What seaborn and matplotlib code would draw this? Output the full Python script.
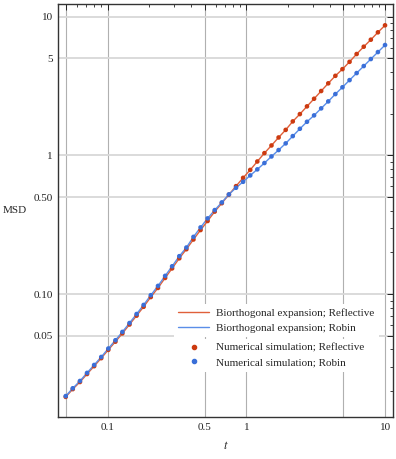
import numpy as np
import pandas as pd
import matplotlib
matplotlib.use("Agg")
import matplotlib.pyplot as plt
from matplotlib.lines import Line2D
from matplotlib.ticker import FixedLocator, NullFormatter
import seaborn as sns

# time grid (log spaced samples)
t = [0.05, 0.0562, 0.0633, 0.0712, 0.0801, 0.0901, 0.1013, 0.114, 0.128, 0.144,
     0.162, 0.182, 0.205, 0.231, 0.260, 0.292, 0.329, 0.370, 0.416, 0.468,
     0.526, 0.592, 0.666, 0.749, 0.843, 0.948, 1.067, 1.200, 1.350, 1.518,
     1.708, 1.921, 2.161, 2.431, 2.735, 3.077, 3.461, 3.893, 4.380, 4.927,
     5.542, 6.234, 7.013, 7.889, 8.874, 9.983]

msd_reflective = [0.0182, 0.0207, 0.0233, 0.0266, 0.0303, 0.0346, 0.0397, 0.0455, 0.0522, 0.0605,
                  0.0701, 0.0812, 0.0954, 0.111, 0.131, 0.1535, 0.1815, 0.211, 0.248, 0.290,
                  0.337, 0.394, 0.453, 0.522, 0.601, 0.690, 0.787, 0.905, 1.040, 1.181,
                  1.348, 1.529, 1.760, 1.987, 2.259, 2.563, 2.914, 3.311, 3.750, 4.190,
                  4.730, 5.385, 6.08, 6.83, 7.72, 8.67]

msd_robin = [0.01845, 0.0210, 0.0237, 0.0271, 0.0309, 0.0353, 0.0406, 0.0466, 0.0535, 0.0620,
             0.0720, 0.0837, 0.0984, 0.1148, 0.1356, 0.159, 0.188, 0.217, 0.259, 0.303,
             0.352, 0.404, 0.459, 0.524, 0.585, 0.646, 0.718, 0.794, 0.882, 0.984,
             1.094, 1.222, 1.379, 1.557, 1.749, 1.945, 2.185, 2.453, 2.770, 3.101,
             3.492, 3.924, 4.410, 4.955, 5.562, 6.25]

xticks = [0.05, 0.1, 0.5, 1, 5, 10]
xticklabels = ["", "0.1", "0.5", "1", "", "10"]
yticks = [0.05, 0.1, 0.5, 1, 5, 10]
yticklabels = ["0.05", "0.10", "0.50", "1", "5", "10"]

red_line, red_dot = "#e0603a", "#cc3a10"
blue_line, blue_dot = "#5a8ee8", "#3a6fd8"

df = pd.DataFrame({"t": t, "Reflective": msd_reflective, "Robin": msd_robin})

sns.set_style("white")
plt.rcParams['font.family'] = ['Liberation Serif', 'DejaVu Serif']
plt.rcParams['mathtext.fontset'] = 'stix'

fig = plt.figure(figsize=(3.96, 4.59), dpi=100)
ax = fig.add_axes([58.3 / 396, 1 - 417.3 / 459, (392.5 - 58.3) / 396, (417.3 - 4) / 459])

sns.lineplot(data=df, x="t", y="Reflective", color=red_line, lw=1.0, ax=ax, zorder=3)
sns.lineplot(data=df, x="t", y="Robin", color=blue_line, lw=1.0, ax=ax, zorder=3)
sns.scatterplot(data=df, x="t", y="Reflective", color=red_dot, s=11, edgecolor="none", ax=ax, zorder=4)
sns.scatterplot(data=df, x="t", y="Robin", color=blue_dot, s=11, edgecolor="none", ax=ax, zorder=4)

ax.set_xscale("log")
ax.set_yscale("log")
ax.set_xlim(0.0442, 11.3)
ax.set_ylim(0.01297, 12.35)

ax.set_xticks(xticks)
ax.set_xticklabels(xticklabels)
ax.set_yticks(yticks)
ax.set_yticklabels(yticklabels)
ax.xaxis.set_minor_locator(FixedLocator([0.06, 0.07, 0.08, 0.09, 0.2, 0.3, 0.4, 0.6, 0.7, 0.8, 0.9,
                                         2, 3, 4, 6, 7, 8, 9]))
ax.yaxis.set_minor_locator(FixedLocator([0.02, 0.03, 0.04, 0.06, 0.07, 0.08, 0.09, 0.2, 0.3, 0.4,
                                         0.6, 0.7, 0.8, 0.9, 2, 3, 4, 6, 7, 8, 9]))
ax.xaxis.set_minor_formatter(NullFormatter())
ax.yaxis.set_minor_formatter(NullFormatter())
ax.tick_params(which="both", direction="in", top=True, right=True, labelsize=8, colors="#222222", pad=4)
ax.tick_params(which="major", length=4, width=0.7)
ax.tick_params(which="minor", length=2.2, width=0.6)

# grid: vertical lines darker, horizontal lighter
for xv in xticks:
    ax.axvline(xv, color="#b0b0b0", lw=0.8, zorder=0)
for yv in yticks:
    ax.axhline(yv, color="#d8d8d8", lw=1.3, zorder=0)

for s in ax.spines.values():
    s.set_color("#333333")
    s.set_linewidth(1.0)

ax.set_xlabel("$t$", fontsize=9, labelpad=6)
ax.set_ylabel("MSD", fontsize=8, rotation=0, va="center", ha="center")
ax.yaxis.set_label_coords(-0.131, 0.5)

lines = [Line2D([], [], color=red_line, lw=1.0), Line2D([], [], color=blue_line, lw=1.0)]
dots = [Line2D([], [], color=red_dot, marker="o", ms=3, lw=0),
        Line2D([], [], color=blue_dot, marker="o", ms=3, lw=0)]
leg_kw = dict(loc="upper left", fontsize=8, frameon=True, framealpha=1, edgecolor="none",
              facecolor="white", fancybox=False, handlelength=2.8, handletextpad=0.6,
              labelspacing=0.42, borderpad=0.4, borderaxespad=0)
leg1 = ax.legend(lines, ["Biorthogonal expansion; Reflective", "Biorthogonal expansion; Robin"],
                 bbox_to_anchor=(0.345, 0.274), **leg_kw)
leg1.set_zorder(5)
ax.add_artist(leg1)
leg2 = ax.legend(dots, ["Numerical simulation; Reflective", "Numerical simulation; Robin"],
                 bbox_to_anchor=(0.345, 0.1906), **leg_kw)
leg2.set_zorder(5)

fig.savefig("out.png", dpi=100)
